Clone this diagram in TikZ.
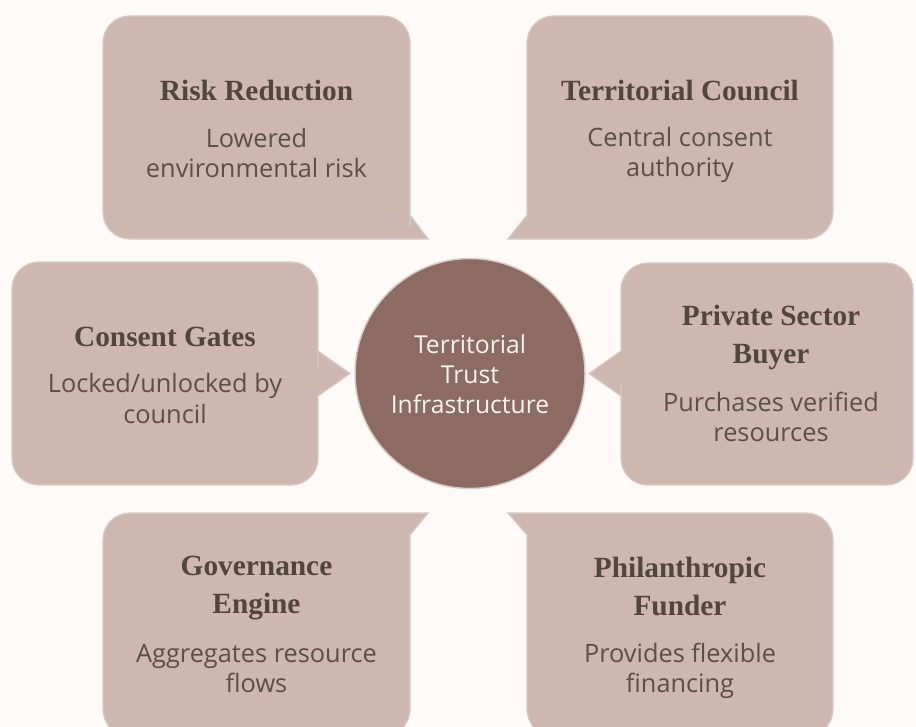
\documentclass[tikz,border=0pt]{standalone}
\usepackage{fontspec}
\usepackage{xcolor}
\usepackage{tikz}
\setmainfont{Open Sans}
\newfontfamily\headfont{Liberation Serif}

\definecolor{paper}{HTML}{FDFAF7}
\definecolor{cardfill}{HTML}{CDB7B0}
\definecolor{cardline}{HTML}{D8CBC5}
\definecolor{hubfill}{HTML}{8D6B62}
\definecolor{headink}{HTML}{50463A}
\definecolor{bodyink}{HTML}{5A5046}
\definecolor{hubink}{HTML}{FAF5F1}

\tikzset{
  card/.style={fill=cardfill, draw=cardline, line width=0.9pt},
  head/.style={inner sep=0pt, align=center, text=headink,
    font=\headfont\bfseries\fontsize{22}{29}\selectfont},
  body/.style={inner sep=0pt, align=center, text=bodyink,
    font=\fontsize{19}{23}\selectfont},
  hub/.style={circle, minimum size=172.5pt, inner sep=0pt, fill=hubfill,
    draw=cardline, line width=1.1pt},
  hubtext/.style={inner sep=0pt, align=center, text=hubink,
    font=\fontsize{18.5}{22.5}\selectfont}
}

\begin{document}
\begin{tikzpicture}[x=0.75pt,y=0.75pt,yscale=-1,xscale=1]
\useasboundingbox (0,0) rectangle (916,727);
\fill[paper] (0,0) rectangle (916,727);
\begin{scope}
\clip (0,0) rectangle (916,727);

%Shape: Callout, tail bottom right
\draw[card] (256,16) [rounded corners=20] -- (410,16) -- (410,200) [sharp corners] -- (410,215) -- (428,239) -- (400,239) [rounded corners=20] -- (103,239) -- (103,16) -- cycle;
%Shape: Callout, tail bottom left
\draw[card] (680,16) [rounded corners=20] -- (833,16) -- (833,239) -- (540,239) [sharp corners] -- (508,239) -- (527,215) -- (527,200) [rounded corners=20] -- (527,16) -- cycle;
%Shape: Callout, tail right
\draw[card] (165,262) [rounded corners=20] -- (318,262) -- (318,340) [sharp corners] -- (318,351) -- (350,373.5) -- (318,396) -- (318,410) [rounded corners=20] -- (318,485) -- (12,485) -- (12,262) -- cycle;
%Shape: Callout, tail left
\draw[card] (767,485) [rounded corners=20] -- (621,485) -- (621,410) [sharp corners] -- (621,396) -- (589,373.5) -- (621,351) -- (621,340) [rounded corners=20] -- (621,263) -- (913,263) -- (913,485) -- cycle;
%Shape: Callout, tail top right
\draw[card] (256,736) [rounded corners=20] -- (103,736) -- (103,513) -- (400,513) [sharp corners] -- (428,513) -- (410,535) -- (410,550) [rounded corners=20] -- (410,736) -- cycle;
%Shape: Callout, tail top left
\draw[card] (680,736) [rounded corners=20] -- (833,736) -- (833,513) -- (540,513) [sharp corners] -- (508,513) -- (527,535) -- (527,550) [rounded corners=20] -- (527,736) -- cycle;
\end{scope}

%Shape: Circle
\draw (470,373.5) node (hub) [hub] {};

% Text Node
\draw (470,374) node (hublabel) [hubtext] {Territorial\\Trust\\Infrastructure};

% Text Node
\draw (256.5,90.5) node (risktitle) [head] {Risk Reduction};
% Text Node
\draw (256.5,153) node (risktext) [body] {Lowered\\environmental risk};

% Text Node
\draw (680,90.5) node (counciltitle) [head] {Territorial Council};
% Text Node
\draw (680,155) node (counciltext) [body] {Central consent\\authority};

% Text Node
\draw (165,336.5) node (gatestitle) [head] {Consent Gates};
% Text Node
\draw (165,398.5) node (gatestext) [body] {Locked/unlocked by\\council};

% Text Node
\draw (771,337.5) node (buyertitle) [head] {Private Sector\\Buyer};
% Text Node
\draw (771,417) node (buyertext) [body] {Purchases verified\\resources};

% Text Node
\draw (256.5,588) node (enginetitle) [head] {Governance\\Engine};
% Text Node
\draw (256.5,668.5) node (enginetext) [body] {Aggregates resource\\flows};

% Text Node
\draw (680,586.5) node (fundertitle) [head] {Philanthropic\\Funder};
% Text Node
\draw (680,671) node (fundertext) [body] {Provides flexible\\financing};

\end{tikzpicture}
\end{document}
